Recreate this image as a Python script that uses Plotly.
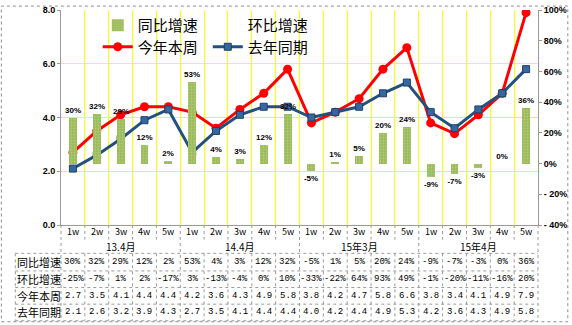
import plotly.graph_objects as go

# ---------------- data ----------------
groups = ["13.4月", "14.4月", "15年3月", "15年4月"]
weeks = ["1w", "2w", "3w", "4w", "5w"]
yoy = [30, 32, 29, 12, 2, 53, 4, 3, 12, 32, -5, 1, 5, 20, 24, -9, -7, -3, 0, 36]
wow = [-25, -7, 1, 2, -17, 3, -13, -4, 0, 10, -33, -22, 64, 93, 49, -1, -20, -11, -16, 20]
this_week = [2.7, 3.5, 4.1, 4.4, 4.4, 4.2, 3.6, 4.3, 4.9, 5.8, 3.8, 4.2, 4.7, 5.8, 6.6, 3.8, 3.4, 4.1, 4.9, 7.9]
last_year = [2.1, 2.6, 3.2, 3.9, 4.3, 2.7, 3.5, 4.1, 4.4, 4.4, 4.0, 4.2, 4.4, 4.9, 5.3, 4.2, 3.6, 4.3, 4.9, 5.8]
series_names = ["同比增速", "环比增速", "今年本周", "去年同期"]
left_ticks = [0, 2, 4, 6, 8]
right_ticks = [-40, -20, 0, 20, 40, 60, 80, 100]
right_ticktext = ["- 40%", "- 20%", "0%", "20%", "40%", "60%", "80%", "100%"]

n = len(yoy)
x = list(range(n))
W, H = 572, 325
L, R, T, B = 61, 31, 5, 100
PW, PH = W - L - R, H - T - B


def py(p):
    return (H - B - p) / PH


def px(p):
    return (p - L) / PW


CJK = "Noto Sans CJK SC"
GRID = "#FFFF00"
TBL = "#9A9A9A"

fig = go.Figure()

fig.add_trace(go.Bar(
    x=x, y=yoy, yaxis="y2", name=series_names[0], width=0.33,
    marker=dict(color="#9BBB59", line=dict(color="#B9CF8A", width=0),
                pattern=dict(shape=".", fgcolor="#C6DA98", size=3, solidity=0.3)),
    text=[f"{v}%" for v in yoy], textposition="outside", cliponaxis=False,
    constraintext="none",
    textfont=dict(family="Liberation Sans", size=8, color="black", weight="bold"),
    legend="legend",
))
fig.add_trace(go.Scatter(
    x=x, y=wow, yaxis="y2", name=series_names[1], mode="lines",
    line=dict(color="rgba(0,0,0,0)", width=0), hoverinfo="skip", legend="legend",
))
fig.add_trace(go.Scatter(
    x=x, y=this_week, name=series_names[2], mode="lines+markers",
    line=dict(color="#FF0000", width=3),
    marker=dict(symbol="circle", size=9, color="#FF0000"), legend="legend2",
))
fig.add_trace(go.Scatter(
    x=x, y=last_year, name=series_names[3], mode="lines+markers",
    line=dict(color="#24507F", width=3),
    marker=dict(symbol="square", size=7, color="#3568A0", line=dict(color="#1F3F66", width=1)),
    legend="legend2",
))

shapes = []
ann = []


def hline(y, x0, x1):
    shapes.append(dict(type="line", xref="paper", yref="paper", x0=px(x0), x1=px(x1),
                       y0=py(y), y1=py(y), line=dict(color=TBL, width=1, dash="dot")))


def vline(xp, y0, y1):
    shapes.append(dict(type="line", xref="paper", yref="paper", x0=px(xp), x1=px(xp),
                       y0=py(y0), y1=py(y1), line=dict(color=TBL, width=1, dash="dot")))


# outer border
shapes.append(dict(type="rect", xref="paper", yref="paper", x0=px(1), x1=px(W - 1),
                   y0=py(H - 1), y1=py(1), line=dict(color="#8C8C8C", width=1, dash="dot")))

row_edges = [254, 272, 289, 306, 323]
for y in row_edges:
    hline(y, 15, L + PW)
vline(15, 254, 323)
vline(L, 225, 323)
cw = PW / n
for i in range(1, n + 1):
    xp = L + i * cw
    if i % len(weeks) == 0:
        vline(xp, 225, 323)
    else:
        vline(xp, 225, 240)
        vline(xp, 254, 323)

# week labels and group labels
for i in range(n):
    ann.append(dict(x=i, y=py(232), xref="x", yref="paper", text=weeks[i % len(weeks)],
                    showarrow=False, xanchor="center", yanchor="middle",
                    font=dict(family=CJK, size=9, color="black")))
for g, name in enumerate(groups):
    ann.append(dict(x=g * len(weeks) + (len(weeks) - 1) / 2, y=py(246.5), xref="x", yref="paper",
                    text=name, showarrow=False, xanchor="center", yanchor="middle",
                    font=dict(family=CJK, size=10, color="black")))

rows = [
    [f"{v}%" for v in yoy],
    [f"{v}%" for v in wow],
    [f"{v:.1f}" for v in this_week],
    [f"{v:.1f}" for v in last_year],
]
centers = [263, 280.5, 297.5, 314.5]
for r, (vals, cy) in enumerate(zip(rows, centers)):
    ann.append(dict(x=px(38.5), y=py(cy), xref="paper", yref="paper", text=series_names[r],
                    showarrow=False, xanchor="center", yanchor="middle",
                    font=dict(family=CJK, size=11, color="black")))
    for i, t in enumerate(vals):
        ann.append(dict(x=i, y=py(cy), xref="x", yref="paper", text=t, showarrow=False,
                        xanchor="center", yanchor="middle",
                        font=dict(family="Liberation Mono", size=9, color="black")))

fig.update_layout(
    width=W, height=H,
    margin=dict(l=L, r=R, t=T, b=B),
    paper_bgcolor="white", plot_bgcolor="white",
    showlegend=True,
    bargap=0,
    xaxis=dict(range=[-0.5, n - 0.5], tickvals=[i - 0.5 for i in range(n + 1)],
               showticklabels=False, ticks="", showgrid=True, gridcolor=GRID, gridwidth=1,
               showline=True, linecolor=TBL, zeroline=False, fixedrange=True),
    yaxis=dict(range=[0, 8], tickvals=left_ticks, tickformat=".1f", showgrid=True,
               gridcolor=GRID, gridwidth=1, showline=True, linecolor=TBL, ticks="outside",
               ticklen=3, tickcolor=TBL, zeroline=False,
               tickfont=dict(family="Liberation Sans", size=9, color="black", weight="bold")),
    yaxis2=dict(range=[-40, 100], overlaying="y", side="right", tickvals=right_ticks,
                ticktext=right_ticktext, showgrid=False, showline=True, linecolor=TBL,
                ticks="outside", ticklen=3, tickcolor=TBL, zeroline=False,
                tickfont=dict(family="Liberation Sans", size=9, color="black", weight="bold")),
    legend=dict(orientation="h", x=px(98), y=py(4), xanchor="left", yanchor="top",
                entrywidth=65, entrywidthmode="pixels", bgcolor="rgba(0,0,0,0)",
                font=dict(family=CJK, size=15, color="black"), itemwidth=30,
                traceorder="normal", tracegroupgap=0),
    legend2=dict(orientation="h", x=px(98), y=py(26), xanchor="left", yanchor="top",
                 entrywidth=65, entrywidthmode="pixels", bgcolor="rgba(0,0,0,0)",
                 font=dict(family=CJK, size=15, color="black"), itemwidth=30,
                 traceorder="normal", tracegroupgap=0),
    shapes=shapes,
    annotations=ann,
)

fig.write_html("out.html")
